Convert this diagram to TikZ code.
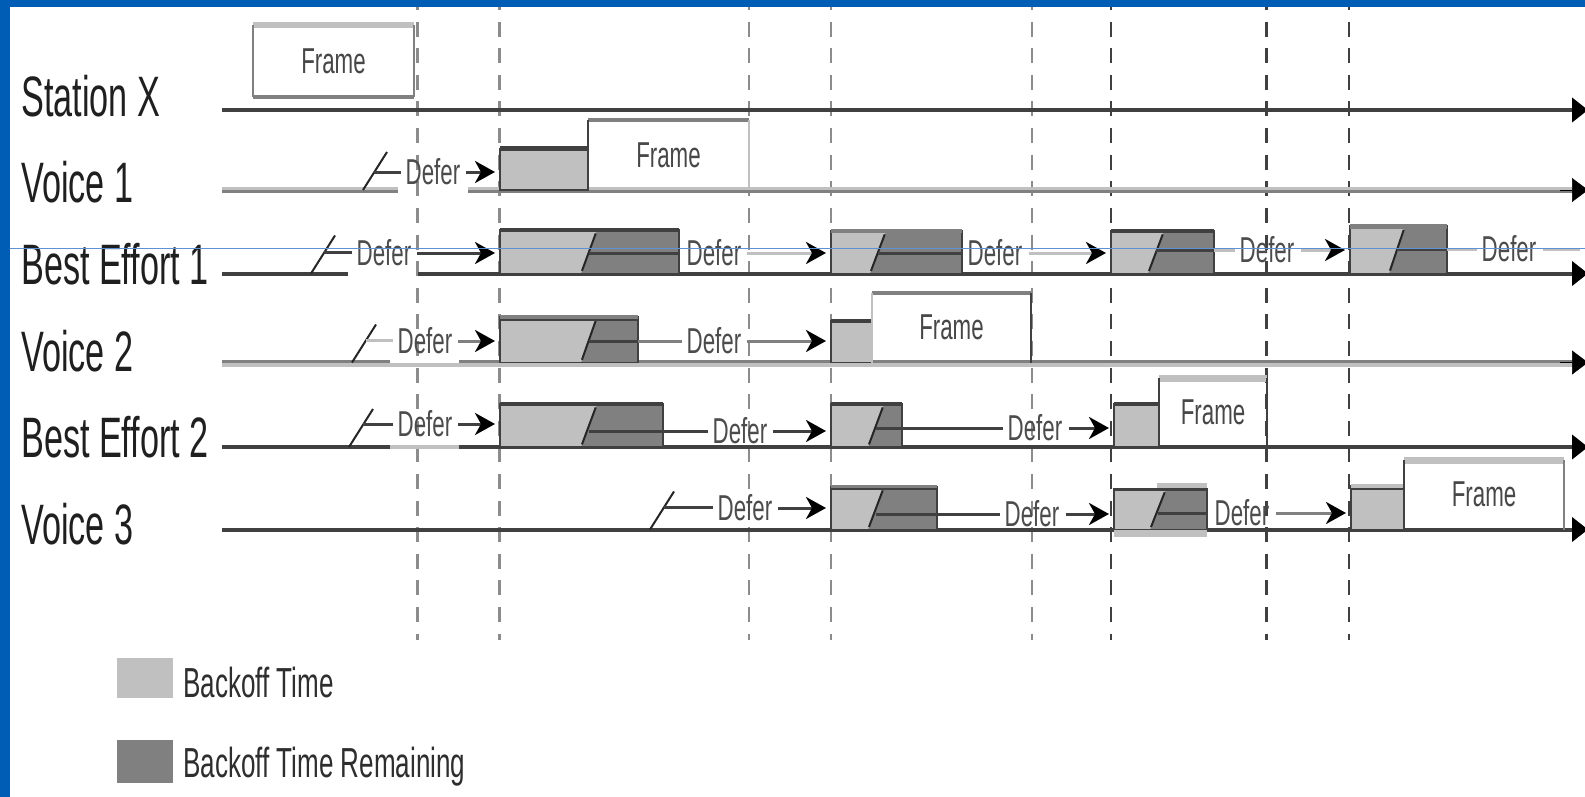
\documentclass[tikz,border=0pt]{standalone}
\usepackage{fontspec}
\usetikzlibrary{arrows.meta,calc}
\newfontfamily\narrowA{Liberation Sans}[FakeStretch=0.6]
\newfontfamily\narrowB{Liberation Sans}[FakeStretch=0.62]
\newcommand\lblfont{\narrowA\fontsize{57}{60}\selectfont}
\newcommand\dfrfont{\narrowB\fontsize{36}{40}\selectfont}
\newcommand\legfnt{\narrowB\fontsize{42}{46}\selectfont}
\definecolor{lg}{HTML}{C0C0C0}
\definecolor{mg}{HTML}{808080}
\definecolor{dg}{HTML}{404040}
\definecolor{dashg}{HTML}{8C8C8C}
\definecolor{bblue}{HTML}{005DB5}
\definecolor{thinblue}{HTML}{5E92D2}
\tikzset{
  boxn/.style={rectangle, inner sep=0pt, outer sep=0pt, draw=none},
  frm/.style={boxn, font=\dfrfont, text=black!72},
  lbl/.style={font=\lblfont, text=black!88, anchor=base west, inner sep=0pt},
  dfr/.style={font=\dfrfont, text=black!70, inner sep=0pt},
  leg/.style={font=\legfnt, text=black!82, anchor=base west, inner sep=0pt},
  vd/.style={line width=2.4pt, dash pattern=on 15pt off 11.6pt},
  axl/.style={line width=4pt, draw=dg},
  axtip/.style={-{Triangle[length=16pt,width=24pt,color=black]}},
  slashl/.style={line width=2pt, draw=black!85},
  defl/.style={line width=3pt, draw=#1},
  darr/.style={-{Stealth[length=20pt,width=22pt,inset=6pt,color=black]}, shorten >=5pt, shorten <=6pt},
  boxline/.style={draw=dg, line width=1.2pt},
}
% plain box node: name, x0, x1, top, bottom
\newcommand\bx[5]{\node[boxn, minimum width={#3-#2}, minimum height={#5-#4}] (#1) at ({(#2+#3)/2},{(#4+#5)/2}) {};}
% frame node
\newcommand\frbox[5]{\node[frm, minimum width={#3-#2}, minimum height={#5-#4}] (#1) at ({(#2+#3)/2},{(#4+#5)/2}) {Frame};}
% light backoff box
\newcommand\lbox[5]{\bx{#1}{#2}{#3}{#4}{#5}
  \fill[lg] (#1.south west) rectangle (#1.north east);
  \draw[boxline] (#1.south west) rectangle (#1.north east);}
% split backoff box: name, x0, split, x1, top, bottom
\newcommand\bk[6]{\bx{#1}{#2}{#4}{#5}{#6}
  \fill[mg] (#1.south west) rectangle (#1.north east);
  \coordinate (#1-b) at ({#3-7},#6);
  \coordinate (#1-t) at ({#3+9},#5);
  \fill[lg] (#1.south west) -- (#1-b) -- (#1-t) -- (#1.north west) -- cycle;
  \draw[boxline] (#1.south west) rectangle (#1.north east);
  \draw[slashl] ($(#1-b)!0.06!(#1-t)$) -- ($(#1-b)!0.92!(#1-t)$);
  \coordinate (#1-m) at ($(#1-b)!0.5!(#1-t)$);}
\begin{document}
\begin{tikzpicture}[x=1pt,y=-1pt]
\useasboundingbox (0,0) rectangle (1585,797);
\fill[white] (0,0) rectangle (1585,797);

% vertical dashed time lines
\foreach \xx/\cc in {417.5/dashg,499.5/dashg,749/dashg,831/dashg,1032/dashg,1111/dg,1266.5/dg,1349/dg}
  \draw[vd, draw=\cc] (\xx,-4.9) -- (\xx,640);

% ---------- axes ----------
\coordinate (aSX) at (222,110);   \coordinate (eSX) at (1588,110);
\draw[axl, axtip] (aSX) -- (eSX);
% Voice 1 (two-tone grey, gap under Defer)
\draw[line width=3pt, lg] (222,188.5) -- (398,188.5);
\draw[line width=3pt, lg] (468,188.5) -- (1575,188.5);
\draw[line width=3pt, mg] (222,191.5) -- (398,191.5);
\draw[line width=3pt, mg] (468,191.5) -- (1575,191.5);
\coordinate (aV1) at (1560,190); \coordinate (eV1) at (1588,190);
\draw[line width=0.5pt, axtip] (aV1) -- (eV1);
% Best Effort 1
\draw[axl] (222,273.5) -- (348,273.5);
\coordinate (aB1) at (418,273.5); \coordinate (eB1x) at (1588,273.5);
\draw[axl, axtip] (aB1) -- (eB1x);
% Voice 2
\draw[line width=3.5pt, lg] (222,365) -- (1575,365);
\draw[line width=3pt, mg] (222,361) -- (390,361);
\draw[line width=3pt, mg] (459,361) -- (1575,361);
\coordinate (aV2) at (1560,362.5); \coordinate (eV2) at (1588,362.5);
\draw[line width=0.5pt, axtip] (aV2) -- (eV2);
% Best Effort 2
\draw[axl] (222,447) -- (390,447);
\draw[line width=4pt, lg] (390,447) -- (459,447);
\coordinate (aE2) at (459,447); \coordinate (eE2) at (1588,447);
\draw[axl, axtip] (aE2) -- (eE2);
% Voice 3
\coordinate (aV3) at (222,529.5); \coordinate (eV3) at (1588,529.5);
\draw[axl, axtip] (aV3) -- (eV3);

% ---------- Station X ----------
\frbox{fSX}{253}{414}{25}{97}
\draw[line width=6pt, lg] (fSX.north west) -- (fSX.north east);
\draw[line width=4pt, mg] (fSX.south west) -- (fSX.south east);
\draw[line width=2pt, mg] (fSX.south west) -- (fSX.north west);
\draw[line width=2pt, mg] (fSX.south east) -- (fSX.north east);

% ---------- Voice 1 ----------
\lbox{bV1}{500}{588}{149}{190}
\draw[line width=5pt, dg] (bV1.north west) -- (bV1.north east);
\frbox{fV1}{588}{749}{120}{190}
\draw[line width=4pt, mg] (fV1.north west) -- (fV1.north east);
\draw[line width=2pt, dg] (fV1.south west) -- (fV1.north west);
\draw[line width=2.5pt, lg] (fV1.south east) -- (fV1.north east);

% ---------- Best Effort 1 ----------
\bk{bB1a}{500}{588}{679}{230}{273.5}
\draw[line width=4pt, dg] (bB1a.north west) -- (bB1a.north east);
\bk{bB1b}{831}{877}{962}{231}{273.5}
\draw[line width=4pt, mg] (bB1b.north west) -- (bB1b.north east);
\bk{bB1c}{1111}{1155}{1214}{231}{273.5}
\draw[line width=4pt, dg] (bB1c.north west) -- (bB1c.north east);
\bk{bB1d}{1350}{1396}{1447}{226}{273.5}
\draw[line width=5pt, mg] (bB1d.north west) -- (bB1d.north east);

% ---------- Voice 2 ----------
\bk{bV2a}{500}{588}{638}{317}{362.5}
\draw[line width=4pt, mg] (bV2a.north west) -- (bV2a.north east);
\draw[line width=2pt, dg] ([yshift=-3pt]bV2a.north west) -- ([yshift=-3pt]bV2a.north east);
\lbox{bV2b}{831}{872}{321}{362.5}
\draw[line width=4pt, dg] (bV2b.north west) -- (bV2b.north east);
\frbox{fV2}{872}{1031}{293}{362.5}
\draw[line width=4pt, mg] (fV2.north west) -- (fV2.north east);
\draw[line width=2.5pt, lg] (fV2.south west) -- (fV2.north west);
\draw[line width=2.5pt, dg] (fV2.south east) -- (fV2.north east);

% ---------- Best Effort 2 ----------
\bk{bE2a}{500}{588}{663}{404}{447}
\draw[line width=4pt, dg] (bE2a.north west) -- (bE2a.north east);
\bk{bE2b}{831}{875}{902}{404}{447}
\draw[line width=4pt, dg] (bE2b.north west) -- (bE2b.north east);
\lbox{bE2c}{1114}{1159}{404}{447}
\draw[line width=4pt, dg] (bE2c.north west) -- (bE2c.north east);
\frbox{fE2}{1159}{1267}{378}{447}
\draw[line width=7pt, lg] (fE2.north west) -- (fE2.north east);
\draw[line width=2.5pt, dg] (fE2.south west) -- (fE2.north west);
\draw[line width=2.5pt, dg] (fE2.south east) -- (fE2.north east);

% ---------- Voice 3 ----------
\bk{bV3a}{831}{875}{937}{487}{529.5}
\draw[line width=4pt, mg] (bV3a.north west) -- (bV3a.north east);
\draw[line width=2pt, dg] ([yshift=-2pt]bV3a.north west) -- ([yshift=-2pt]bV3a.north east);
\fill[lg] (1157,483) rectangle (1207,489);
\fill[lg] (1114,529.5) rectangle (1207,537);
\bk{bV3b}{1114}{1157}{1207}{489}{529.5}
\draw[line width=3pt, dg] (bV3b.north west) -- (bV3b.north east);
\lbox{bV3c}{1351}{1404}{486}{529.5}
\draw[line width=5pt, lg] (bV3c.north west) -- (bV3c.north east);
\draw[line width=1.5pt, dg] ([yshift=-3pt]bV3c.north west) -- ([yshift=-3pt]bV3c.north east);
\frbox{fV3}{1404}{1564}{460}{529.5}
\draw[line width=7pt, lg] (fV3.north west) -- (fV3.north east);
\draw[line width=2.5pt, dg] (fV3.south west) -- (fV3.north west);
\draw[line width=2.5pt, mg] (fV3.south east) -- (fV3.north east);

% ---------- Defer labels ----------
\node[dfr] (dV1)  at (433,172) {Defer};
\node[dfr] (dB1a) at (384,253) {Defer};
\node[dfr] (dB1b) at (714,253) {Defer};
\node[dfr] (dB1c) at (995,253) {Defer};
\node[dfr] (dB1d) at (1267,250) {Defer};
\node[dfr] (dB1e) at (1509,249) {Defer};
\node[dfr] (dV2a) at (425,341) {Defer};
\node[dfr] (dV2b) at (714,341) {Defer};
\node[dfr] (dE2a) at (425,424) {Defer};
\node[dfr] (dE2b) at (740,431) {Defer};
\node[dfr] (dE2c) at (1035,428) {Defer};
\node[dfr] (dV3a) at (745,508) {Defer};
\node[dfr] (dV3b) at (1032,514) {Defer};
\node[dfr] (dV3c) at (1242,513) {Defer};

% start ticks (first deferral of each station)
\coordinate (tV1a) at (363,190);   \coordinate (tV1b) at (387,152);
\coordinate (tB1a) at (311,273.5); \coordinate (tB1b) at (335,235.5);
\coordinate (tV2a) at (352,362.5); \coordinate (tV2b) at (376,324.5);
\coordinate (tE2a) at (349,447);   \coordinate (tE2b) at (373,409);
\coordinate (tV3a) at (650,529.5); \coordinate (tV3b) at (674,491.5);
\foreach \tt in {tV1,tB1,tV2,tE2,tV3} \draw[slashl] (\tt a) -- (\tt b);
\coordinate (hV1) at ($(tV1a)!0.47!(tV1b)$);
\coordinate (hB1) at ($(tB1a)!0.54!(tB1b)$);
\coordinate (hV2) at ($(tV2a)!0.57!(tV2b)$);
\coordinate (hE2) at ($(tE2a)!0.6!(tE2b)$);
\coordinate (hV3) at ($(tV3a)!0.57!(tV3b)$);
\draw[defl=dg, shorten >=5pt] (hV1) -- (hV1 -| dV1.west);
\draw[defl=dg, shorten >=5pt] (hB1) -- (hB1 -| dB1a.west);
\draw[defl=lg, shorten >=5pt] (hV2) -- (hV2 -| dV2a.west);
\draw[defl=dg, shorten >=5pt] (hE2) -- (hE2 -| dE2a.west);
\draw[defl=dg, shorten >=5pt] (hV3) -- (hV3 -| dV3a.west);

% deferral lines starting at an interrupted backoff
\draw[defl=dg] (dB1b.west -| bB1a-m) -- (dB1b.west -| bB1a.east);
\draw[defl=dg] (dB1c.west -| bB1b-m) -- (dB1c.west -| bB1b.east);
\draw[defl=dg] (dB1d.west -| bB1c-m) -- (dB1d.west -| bB1c.east);
\draw[defl=lg, shorten >=5pt] (dB1d.west -| bB1c.east) -- (dB1d.west);
\draw[defl=dg] (dB1e.west -| bB1d-m) -- (dB1e.west -| bB1d.east);
\draw[defl=lg, shorten >=5pt] (dB1e.west -| bB1d.east) -- (dB1e.west);
\draw[defl=dg] (dV2b.west -| bV2a-m) -- (dV2b.west -| bV2a.east);
\draw[defl=mg, shorten >=5pt] (dV2b.west -| bV2a.east) -- (dV2b.west);
\draw[defl=dg, shorten >=5pt] (dE2b.west -| bE2a-m) -- (dE2b.west);
\draw[defl=dg, shorten >=5pt] (dE2c.west -| bE2b-m) -- (dE2c.west);
\draw[defl=dg, shorten >=5pt] (dV3b.west -| bV3a-m) -- (dV3b.west);
\draw[defl=dg] (dV3c.west -| bV3b-m) -- (dV3c.west -| bV3b.east);

% deferral arrows to the next backoff
\draw[defl=dg, darr] (dV1.east)  -- (dV1.east -| bV1.west);
\draw[defl=dg, darr] (dB1a.east) -- (dB1a.east -| bB1a.west);
\draw[defl=lg, darr] (dB1b.east) -- (dB1b.east -| bB1b.west);
\draw[defl=lg, darr] (dB1c.east) -- (dB1c.east -| bB1c.west);
\draw[defl=lg, darr] (dB1d.east) -- (dB1d.east -| bB1d.west);
\coordinate (eB1) at (1580,249);
\draw[defl=lg, shorten <=6pt] (dB1e.east) -- (dB1e.east -| eB1);
\draw[defl=mg, darr] (dV2a.east) -- (dV2a.east -| bV2a.west);
\draw[defl=mg, darr] (dV2b.east) -- (dV2b.east -| bV2b.west);
\draw[defl=dg, darr] (dE2a.east) -- (dE2a.east -| bE2a.west);
\draw[defl=dg, darr] (dE2b.east) -- (dE2b.east -| bE2b.west);
\draw[defl=dg, darr] (dE2c.east) -- (dE2c.east -| bE2c.west);
\draw[defl=dg, darr] (dV3a.east) -- (dV3a.east -| bV3a.west);
\draw[defl=dg, darr] (dV3b.east) -- (dV3b.east -| bV3b.west);
\draw[defl=mg, darr] (dV3c.east) -- (dV3c.east -| bV3c.west);

% ---------- station labels ----------
\node[lbl] (nSX) at (21,117) {Station X};
\node[lbl] (nV1) at (21,202) {Voice 1};
\node[lbl] (nB1) at (21,284) {Best Effort 1};
\node[lbl] (nV2) at (21,371) {Voice 2};
\node[lbl] (nE2) at (21,457) {Best Effort 2};
\node[lbl] (nV3) at (21,544) {Voice 3};

% ---------- legend ----------
\bx{L1}{117}{173}{658}{698}
\fill[lg] (L1.south west) rectangle (L1.north east);
\bx{L2}{117}{173}{740}{783}
\fill[mg] (L2.south west) rectangle (L2.north east);
\node[leg] (t1) at (183,697) {Backoff Time};
\node[leg] (t2) at (183,777) {Backoff Time Remaining};

% ---------- frame of the page ----------
\draw[thinblue, line width=1pt] (10,248) -- (1585,248);
\fill[bblue] (0,0) rectangle (1585,7);
\fill[bblue] (0,0) rectangle (10,797);
\end{tikzpicture}
\end{document}
